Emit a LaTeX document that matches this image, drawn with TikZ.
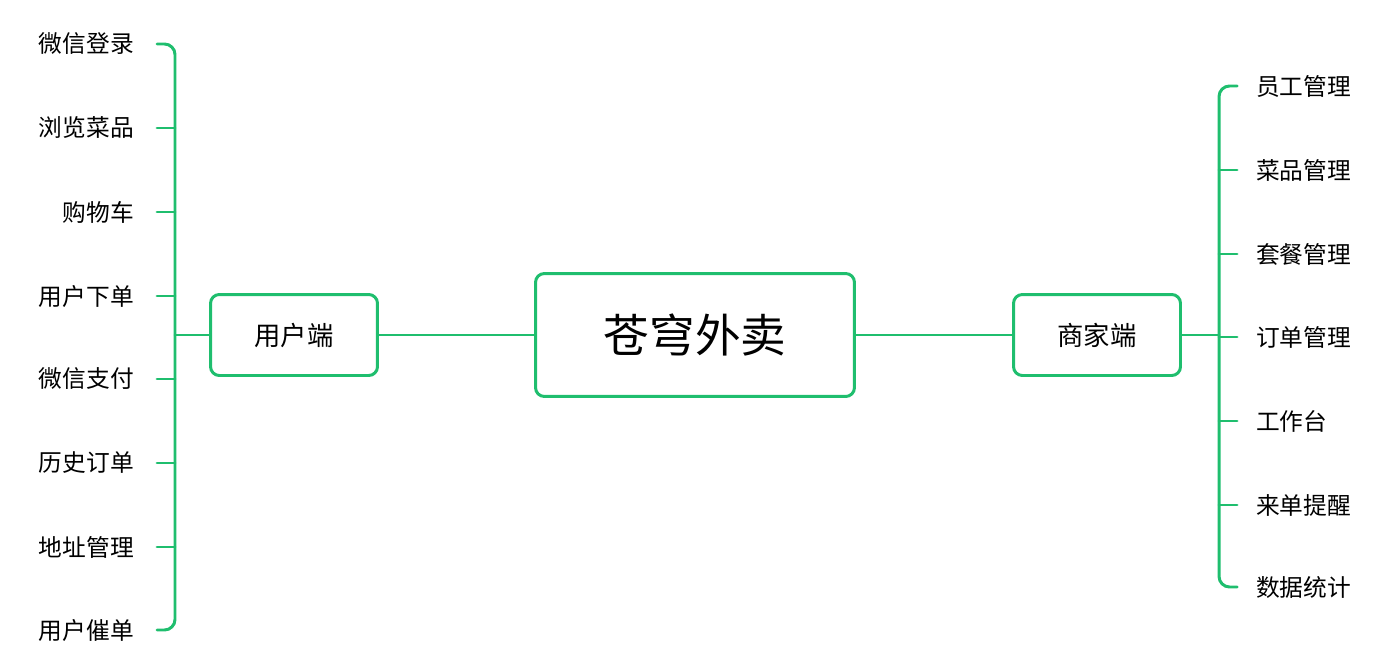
\documentclass[tikz,border=0pt]{standalone}
\usepackage{fontspec}
\setmainfont{Noto Sans CJK SC}
\definecolor{mapgreen}{RGB}{31,190,110}
\begin{document}
\begin{tikzpicture}[x=0.02cm,y=-0.02cm,
  box/.style={draw=mapgreen,line width=1.7pt,rounded corners=5pt,align=center},
  link/.style={draw=mapgreen,line width=1.7pt,line cap=round}]
\useasboundingbox (0,0) rectangle (1399,662);
\node[box,minimum width=6.38cm,minimum height=2.46cm,font=\fontsize{26}{30}\selectfont] (root) at (695,335) {苍穹外卖};
\node[box,minimum width=3.34cm,minimum height=1.62cm,font=\fontsize{15}{18}\selectfont] (user) at (294,335) {用户端};
\node[box,minimum width=3.34cm,minimum height=1.62cm,font=\fontsize{15}{18}\selectfont] (shop) at (1097,335) {商家端};

\path[link] (user) -- (root);
\path[link] (root) -- (shop);

% left branch
\coordinate (lspine) at (175,335);
\path[link] (user) -- (lspine);
\foreach \name/\y [count=\i] in {微信登录/44,浏览菜品/128,购物车/212,用户下单/296,微信支付/379,历史订单/463,地址管理/547,用户催单/630} {
  \node[anchor=east,font=\fontsize{13.5}{16}\selectfont] (l\i) at (140,\y) {\name};
  \coordinate (lt\i) at (157,\y);
}
\path[link,rounded corners=6pt] (lt1) -- (175,44) -- (175,630) -- (lt8);
\foreach \i/\y in {2/128,3/212,4/296,5/379,6/463,7/547}
  \path[link] (lt\i) -- (175,\y);

% right branch
\coordinate (rspine) at (1219,335);
\path[link] (shop) -- (rspine);
\foreach \name/\y [count=\i] in {员工管理/86,菜品管理/170,套餐管理/254,订单管理/337,工作台/421,来单提醒/505,数据统计/587} {
  \node[anchor=west,font=\fontsize{13.5}{16}\selectfont] (r\i) at (1250,\y) {\name};
  \coordinate (rt\i) at (1237,\y);
}
\path[link,rounded corners=6pt] (rt1) -- (1219,86) -- (1219,587) -- (rt7);
\foreach \i/\y in {2/170,3/254,4/337,5/421,6/505}
  \path[link] (1219,\y) -- (rt\i);
\end{tikzpicture}
\end{document}
